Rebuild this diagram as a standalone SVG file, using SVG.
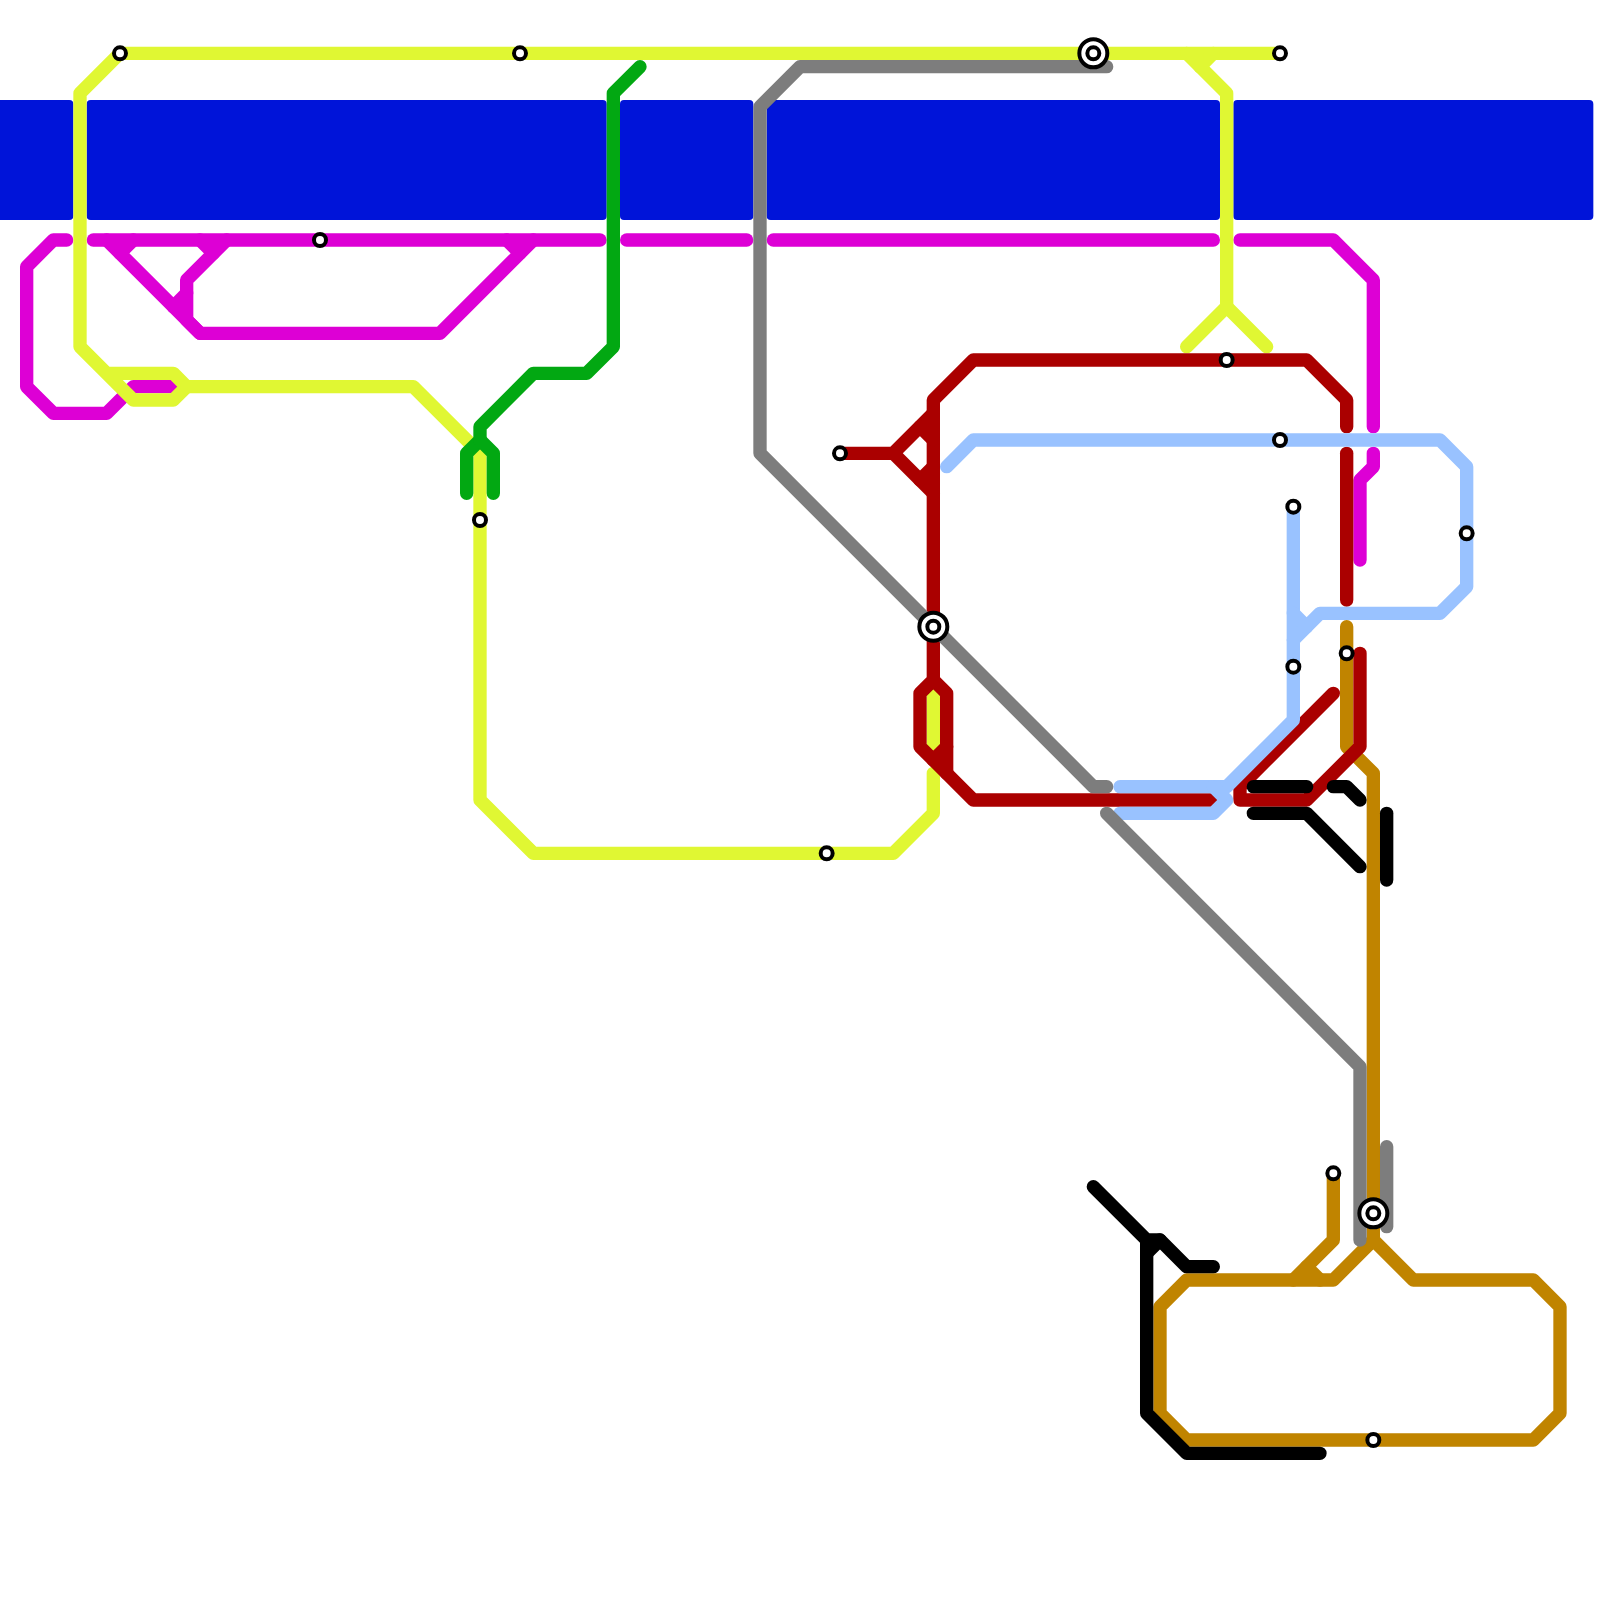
<svg xmlns="http://www.w3.org/2000/svg" width="1600" height="1600" viewBox="0 0 1600 1600">
<style>
.l{fill:none;stroke-width:1;stroke-linecap:round;stroke-linejoin:round}
.m{stroke:#dd00d5}.y{stroke:#e0f733}.g{stroke:#02a812}.o{stroke:#c08400}.r{stroke:#aa0000}.b{stroke:#99c2ff}.k{stroke:#000}.s{stroke:#7d7d7d}
.band{fill:#0014d9}
.st{fill:#fff;stroke:#000;stroke-width:.3}
</style>
<rect width="1600" height="1600" fill="#fff"/>
<g id="connectors" transform="scale(13.33333)">
<g id="band">
<rect class="band" x="-1" y="7.5" width="6.5" height="9" rx=".3"/>
<rect class="band" x="6.5" y="7.5" width="39" height="9" rx=".3"/>
<rect class="band" x="46.5" y="7.5" width="10" height="9" rx=".3"/>
<rect class="band" x="57.5" y="7.5" width="34" height="9" rx=".3"/>
<rect class="band" x="92.5" y="7.5" width="27" height="9" rx=".3"/>
</g>
<g id="magenta" class="l m">
<polyline points="5,18 4,18 2,20 2,29 4,31 8,31 10,29 13,29"/>
<polyline points="7,18 45,18"/>
<polyline points="47,18 56,18"/>
<polyline points="58,18 91,18"/>
<polyline points="93,18 100,18 103,21 103,32"/>
<polyline points="103,34 103,35 102,36 102,42"/>
<polyline points="8,18 15,25 33,25 40,18"/>
<polyline points="17,18 14,21 14,24 15,25"/>
<polyline points="13,23 14,22"/>
<polyline points="9,19 10,18"/>
<polyline points="15,18 16,19"/>
<polyline points="38,18 39,19"/>
</g>
<g id="yellow" class="l y">
<polyline points="96,4 9,4 6,7 6,26 10,30 13,30 14,29 13,28 8,28"/>
<polyline points="14,29 31,29 36,34 36,60 40,64 67,64 70,61 70,58"/>
<polyline points="70,52 70,56"/>
<polyline points="89,4 92,7 92,23 89,26"/>
<polyline points="92,23 95,26"/>
<polyline points="90,5 91,4"/>
</g>
<g id="green" class="l g">
<polyline points="48,5 46,7 46,26 44,28 40,28 36,32 36,33 35,34 35,37"/>
<polyline points="36,33 37,34 37,37"/>
</g>
<g id="gold" class="l o">
<polyline points="101,47 101,56 103,58 103,93 106,96 115,96 117,98 117,106 115,108 89,108 87,106 87,98 89,96 100,96 103,93"/>
<polyline points="100,88 100,93 97,96"/>
<polyline points="98,95 99,96"/>
</g>
<g id="red" class="l r">
<polyline points="101,32 101,30 98,27 73,27 70,30 70,51 69,52 69,56 73,60 91,60"/>
<polyline points="70,51 71,52 71,58"/>
<polyline points="71,56 70,57"/>
<polyline points="63,34 67,34 70,31"/>
<polyline points="67,34 70,37"/>
<polyline points="69,32 70,33"/>
<polyline points="69,36 70,35"/>
<polyline points="101,34 101,45"/>
<polyline points="100,52 93,59 93,60 98,60 102,56 102,49"/>
</g>
<g id="lightblue" class="l b">
<polyline points="71,35 73,33 108,33 110,35 110,44 108,46 99,46 97,48"/>
<polyline points="97,38 97,54 92,59 84,59"/>
<polyline points="97,46 98,47"/>
<polyline points="91,59 92,60 91,61 84,61"/>
</g>
<g id="black" class="l k">
<polyline points="82,89 86,93 87,93 89,95 91,95"/>
<polyline points="86,93 86,106 89,109 99,109"/>
<polyline points="87,93 86,94"/>
<polyline points="94,59 98,59"/>
<polyline points="94,61 98,61 102,65"/>
<polyline points="100,59 101,59 102,60"/>
<polyline points="104,61 104,66"/>
</g>
<g id="gray" class="l s">
<polyline points="83,5 60,5 57,8 57,34 82,59 83,59"/>
<polyline points="83,61 102,80 102,93"/>
<polyline points="104,86 104,92"/>
</g>
</g>
<defs>
<g id="stop"><circle class="st" r=".45"/></g>
<g id="hub"><circle class="st" r="1.05"/><circle class="st" r=".45"/></g>
</defs>
<g id="stations" transform="scale(13.33333)">
<use id="n1" href="#stop" x="9" y="4"/>
<use id="n2" href="#stop" x="39" y="4"/>
<use id="n3" href="#stop" x="24" y="18"/>
<use id="n4" href="#stop" x="36" y="39"/>
<use id="n5" href="#stop" x="62" y="64"/>
<use id="n6" href="#stop" x="63" y="34"/>
<use id="n7" href="#hub" x="70" y="47"/>
<use id="n8" href="#hub" x="82" y="4"/>
<use id="n9" href="#stop" x="96" y="4"/>
<use id="n10" href="#stop" x="92" y="27"/>
<use id="n11" href="#stop" x="96" y="33"/>
<use id="n12" href="#stop" x="97" y="38"/>
<use id="n13" href="#stop" x="110" y="40"/>
<use id="n14" href="#stop" x="97" y="50"/>
<use id="n15" href="#stop" x="101" y="49"/>
<use id="n16" href="#stop" x="100" y="88"/>
<use id="n17" href="#hub" x="103" y="91"/>
<use id="n18" href="#stop" x="103" y="108"/>
</g>
</svg>
